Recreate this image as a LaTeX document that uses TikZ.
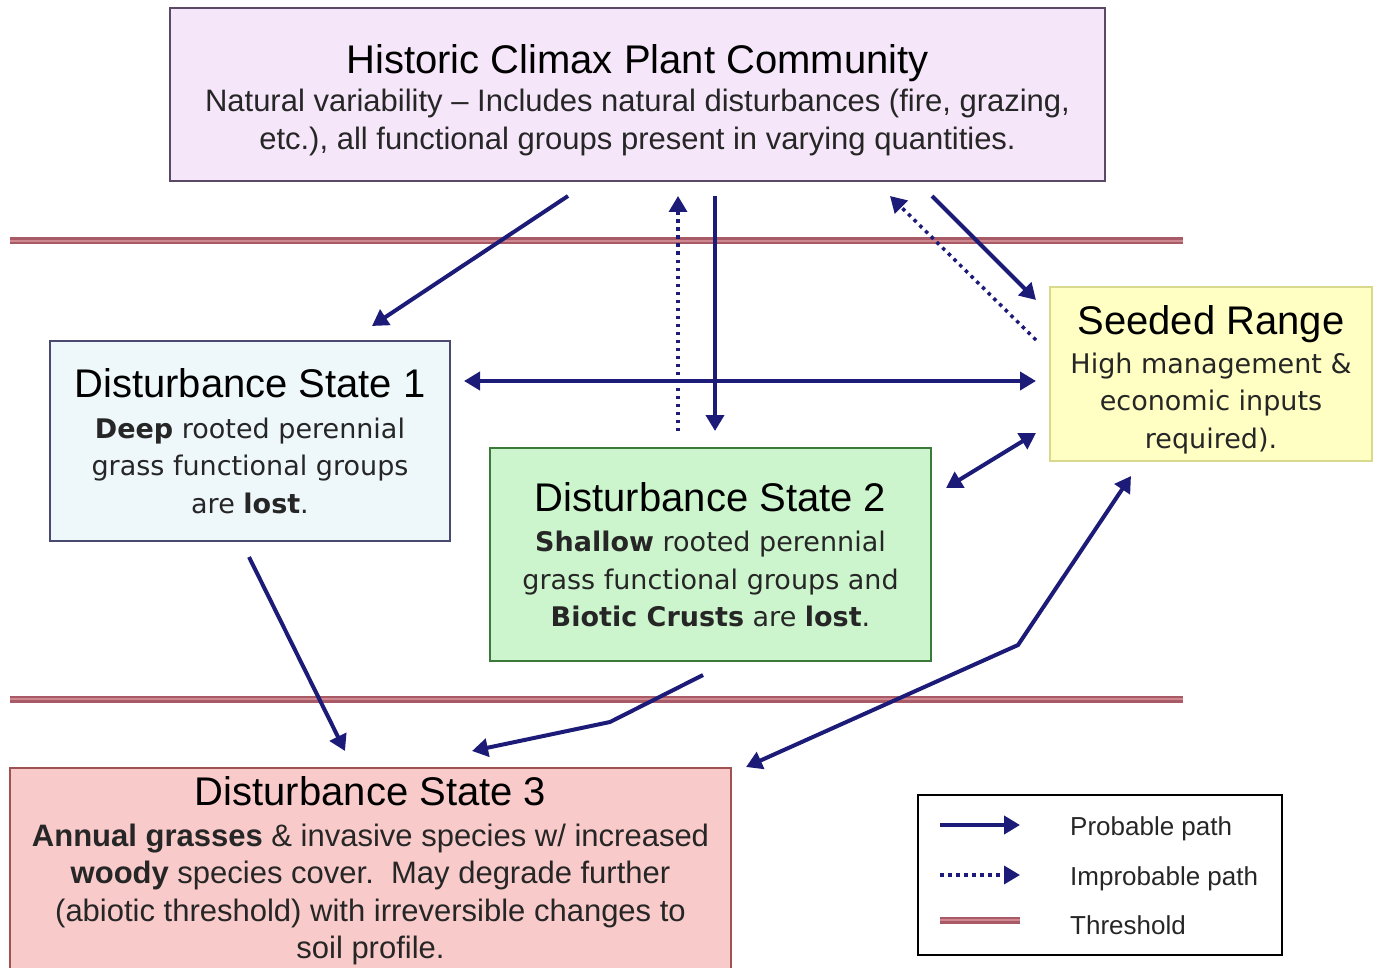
\documentclass[tikz,border=0pt]{standalone}
\usepackage{fontspec}
\setmainfont{Liberation Sans}
\newfontfamily\dv{DejaVu Sans}
\usetikzlibrary{arrows.meta,calc}
\definecolor{navy}{HTML}{1C1C78}
\definecolor{topfill}{HTML}{F5E7F9}
\definecolor{topdraw}{HTML}{5A4A66}
\definecolor{onefill}{HTML}{EEF7FA}
\definecolor{onedraw}{HTML}{4A4A70}
\definecolor{twofill}{HTML}{CDF5CD}
\definecolor{twodraw}{HTML}{3C7A3C}
\definecolor{seedfill}{HTML}{FFFFC4}
\definecolor{seeddraw}{HTML}{D9D98E}
\definecolor{threefill}{HTML}{F9CACA}
\definecolor{threedraw}{HTML}{A05252}
\definecolor{thrA}{HTML}{A85A66}
\definecolor{thrB}{HTML}{D08890}
\definecolor{txt}{HTML}{262626}
\newcommand{\ttl}{\rmfamily\fontsize{40}{44}\selectfont\color{black}}
\newcommand{\bdy}{\fontsize{31}{37.5}\selectfont}
\newcommand{\bdv}{\dv\fontsize{27}{37.5}\selectfont}
\tikzset{
  statebox/.style={draw, line width=2pt, inner sep=0pt, align=center, text=txt},
  arr/.style={draw=navy, line width=4pt, -{Triangle[length=16pt,width=18pt]}},
  darr/.style={draw=navy, line width=4pt, {Triangle[length=16pt,width=18pt]}-{Triangle[length=16pt,width=18pt]}},
  dotarr/.style={draw=navy, line width=3.5pt, dash pattern=on 3.5pt off 4.5pt, -{Triangle[length=16pt,width=18pt]}},
  thresh/.style={draw=thrA, line width=2.5pt, double=thrB, double distance=2pt},
  legtext/.style={anchor=west, font=\fontsize{26}{30}\selectfont, text=txt, inner sep=0pt}
}
\begin{document}
\begin{tikzpicture}[x=1pt,y=-1pt]
\useasboundingbox (0,0) rectangle (1380,968);
% thresholds
\coordinate (t1a) at (10,241); \coordinate (t1b) at (1183,241);
\coordinate (t2a) at (10,699); \coordinate (t2b) at (1183,699);
\draw[thresh] (t1a) -- (t1b);
\draw[thresh] (t2a) -- (t2b);
% boxes
\node[statebox, font=\bdy, fill=topfill, draw=topdraw, minimum width=935pt, minimum height=173pt] (top) at (637.5,94.5)
  {{\ttl\rule{0pt}{40pt}Historic Climax Plant Community}\\[1pt]
   Natural variability -- Includes natural disturbances (fire, grazing,\\
   etc.), all functional groups present in varying quantities.};
\node[statebox, font=\bdv, fill=onefill, draw=onedraw, minimum width=400pt, minimum height=200pt] (ds1) at (250,441)
  {{\ttl Disturbance State 1}\\[3pt]
   \textbf{Deep} rooted perennial\\
   grass functional groups\\
   are \textbf{lost}.};
\node[statebox, font=\bdv, fill=twofill, draw=twodraw, minimum width=441pt, minimum height=213pt] (ds2) at (710.5,554.5)
  {{\ttl Disturbance State 2}\\[3pt]
   \textbf{Shallow} rooted perennial\\
   grass functional groups and\\
   \textbf{Biotic Crusts} are \textbf{lost}.};
\node[statebox, font=\bdv, fill=seedfill, draw=seeddraw, minimum width=322pt, minimum height=174pt] (seed) at (1211,374)
  {{\ttl\rule{0pt}{41pt}Seeded Range}\\[1pt]
   High management \&\\
   economic inputs\\
   required).};
\node[statebox, font=\bdy, fill=threefill, draw=threedraw, minimum width=721pt, minimum height=206pt] (ds3) at (370.5,871)
  {{\ttl Disturbance State 3}\\[3pt]
   \textbf{Annual grasses} \& invasive species w/ increased\\
   \textbf{woody} species cover.\ \ May degrade further\\
   (abiotic threshold) with irreversible changes to\\
   soil profile.};
% connectors
\draw[arr] ($(top.south)+(-69.5,14)$) -- ($(ds1.north)+(122,-14)$);
\draw[dotarr] ($(ds2.north)+(-32.5,-16)$) -- ($(top.south)+(40.5,14)$);
\draw[arr] ($(top.south)+(77.5,14)$) -- ($(ds2.north)+(4.5,-16)$);
\draw[dotarr] ($(seed.west)+(-13,-34)$) -- ($(top.south)+(252.5,14)$);
\draw[arr] ($(top.south)+(294.5,14)$) -- ($(seed.west)+(-13,-74)$);
\draw[darr] ($(ds1.east)+(13,-60)$) -- ($(seed.west)+(-13,7)$);
\draw[darr] ($(ds2.east)+(14,-66.5)$) -- ($(seed.west)+(-13,59)$);
\draw[arr] ($(ds1.south)+(-1,15)$) -- ($(ds3.north)+(-25.5,-16)$);
\coordinate (bend9) at (610,722);
\draw[arr] ($(ds2.south)+(-7.5,13)$) -- (bend9) -- ($(ds3.north)+(101.5,-16)$);
\coordinate (bend10) at (1018,645);
\draw[darr] ($(ds3.north east)+(14,0)$) -- (bend10) -- ($(seed.south)+(-80,14)$);
% legend
\node[draw=black, line width=2pt, minimum width=364pt, minimum height=160pt, inner sep=0pt] (legend) at (1100,875) {};
\coordinate (l1a) at (940,825); \coordinate (l1b) at (1020,825);
\coordinate (l2a) at (940,875); \coordinate (l2b) at (1020,875);
\coordinate (l3a) at (940,920); \coordinate (l3b) at (1020,920);
\draw[arr] (l1a) -- (l1b);
\draw[dotarr] (l2a) -- (l2b);
\draw[thresh] (l3a) -- (l3b);
\node[legtext] (lt1) at (1070,829) {Probable path};
\node[legtext] (lt2) at (1070,879) {Improbable path};
\node[legtext] (lt3) at (1070,925) {Threshold};
\end{tikzpicture}
\end{document}
